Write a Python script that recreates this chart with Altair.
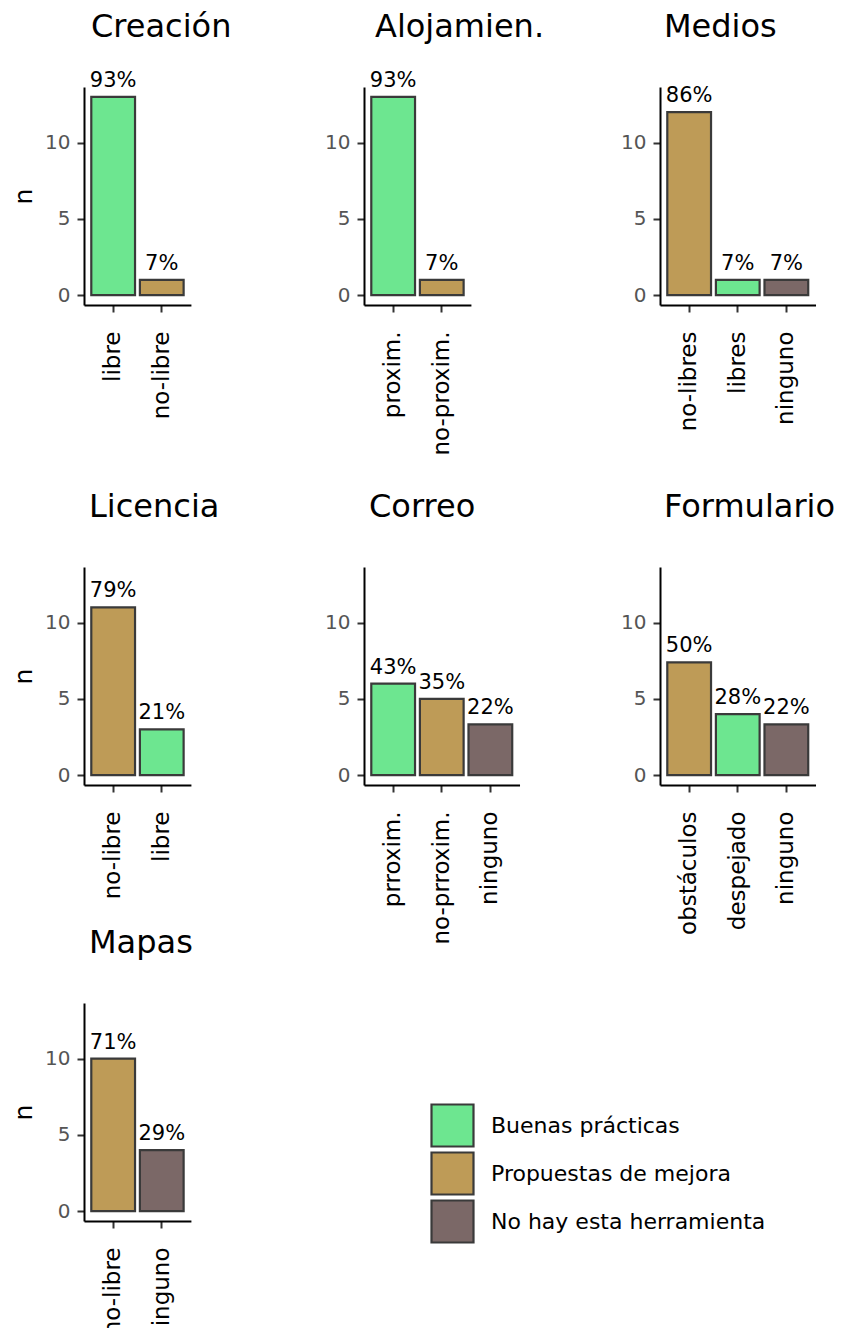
import altair as alt
import pandas as pd

# ---- data ----
titles = ["Creación", "Alojamien.", "Medios", "Licencia", "Correo", "Formulario", "Mapas"]
labels = [
    ["libre", "no-libre"],
    ["proxim.", "no-proxim."],
    ["no-libres", "libres", "ninguno"],
    ["no-libre", "libre"],
    ["prroxim.", "no-prroxim.", "ninguno"],
    ["obstáculos", "despejado", "ninguno"],
    ["no-libre", "ninguno"],
]
counts = [
    [13, 1],
    [13, 1],
    [12, 1, 1],
    [11, 3],
    [6, 5, 3.33],
    [7.4, 4, 3.33],
    [10, 4],
]
pcts = [
    ["93%", "7%"],
    ["93%", "7%"],
    ["86%", "7%", "7%"],
    ["79%", "21%"],
    ["43%", "35%", "22%"],
    ["50%", "28%", "22%"],
    ["71%", "29%"],
]
kinds = [
    ["B", "P"],
    ["B", "P"],
    ["P", "B", "N"],
    ["P", "B"],
    ["B", "P", "N"],
    ["P", "B", "N"],
    ["P", "N"],
]
kind_names = {"B": "Buenas prácticas", "P": "Propuestas de mejora", "N": "No hay esta herramienta"}
legend_domain = ["Buenas prácticas", "Propuestas de mejora", "No hay esta herramienta"]
legend_colors = ["#6de690", "#be9b57", "#7b6867"]

# ---- layout / style ----
FONT = "DejaVu Sans"
STEP = 48.6
H = 218
col_widths = [279.3, 295.7, 160]
title_dx = [7, 11, 4, 5, 5, 4, 5]
STROKE = "#3a3a3a"


def panel(i, col):
    df = pd.DataFrame({
        "cat": labels[i],
        "n": counts[i],
        "pct": pcts[i],
        "kind": [kind_names[k] for k in kinds[i]],
    })
    ncat = len(labels[i])
    xscale = alt.Scale(domain=labels[i], range=[0, (ncat + 0.2) * STEP],
                       paddingInner=0.1, paddingOuter=0.15)
    x = alt.X("cat:N", sort=labels[i], scale=xscale,
              axis=alt.Axis(title=None, labelAngle=-90, labelFontSize=23,
                            labelColor="black", labelPadding=19, tickSize=7,
                            labelFont=FONT))
    yaxis_kw = dict(values=[0, 5, 10], labelFontSize=20, labelColor="#555555",
                    labelPadding=7, tickSize=7, grid=False, labelFont=FONT)
    if col == 0:
        yaxis = alt.Axis(title="n", titleFontSize=25, titleFontWeight="normal",
                         titleColor="black", titlePadding=8, titleFont=FONT, **yaxis_kw)
    else:
        yaxis = alt.Axis(title=None, **yaxis_kw)
    y = alt.Y("n:Q", scale=alt.Scale(domain=[-0.65, 13.65], nice=False, zero=False), axis=yaxis)
    base = alt.Chart(df)
    bars = base.mark_bar(stroke=STROKE, strokeWidth=2.2, opacity=1).encode(
        x=x,
        y=y,
        y2=alt.datum(0),
        color=alt.Color("kind:N", scale=alt.Scale(domain=legend_domain, range=legend_colors),
                        legend=alt.Legend(title=None, orient="none", legendX=346, legendY=1016,
                                          symbolType="square", symbolSize=1764,
                                          symbolStrokeColor=STROKE, symbolStrokeWidth=2.2,
                                          symbolOpacity=1, labelFontSize=22,
                                          labelColor="black", labelFont=FONT,
                                          labelLimit=500,
                                          labelOffset=16, rowPadding=-5, padding=0)),
    )
    text = base.mark_text(dy=-10, baseline="alphabetic", align="center", fontSize=21,
                          color="black", font=FONT).encode(x=x, y=y, text="pct:N")
    # invisible helper so every panel's top bound is the same (keeps titles aligned)
    helper = base.mark_rule(strokeOpacity=0).encode(
        x=alt.value(0), y=alt.value(-19), y2=alt.value(0))
    return alt.layer(bars, text, helper).properties(
        width=col_widths[col], height=H,
        title=alt.TitleParams(titles[i], anchor="start", frame="group", fontSize=32,
                              fontWeight="normal", font=FONT, color="black",
                              baseline="alphabetic", offset=-1.4, dx=title_dx[i]),
    )


def spacer(h):
    return alt.Chart(pd.DataFrame({"z": [0]})).mark_point(opacity=0).encode(
        x=alt.value(0), y=alt.value(0)).properties(width=1, height=h)


cells = [
    panel(0, 0), panel(1, 1), panel(2, 2),
    spacer(262), spacer(262), spacer(262),
    panel(3, 0), panel(4, 1), panel(5, 2),
    spacer(218), spacer(218), spacer(218),
    panel(6, 0),
]

chart = alt.concat(*cells, columns=3, spacing=0, bounds="flush", align="each").resolve_scale(
    x="independent", y="independent"
).properties(
    padding={"left": 3, "top": 3, "right": 0, "bottom": -13}, background="white"
).configure(font=FONT).configure_view(stroke="transparent", strokeWidth=0).configure_axis(
    domainColor="black", domainWidth=2, tickColor="#333333", tickWidth=2
)

chart.save("out.html", embed_options={"renderer": "svg", "actions": False})
